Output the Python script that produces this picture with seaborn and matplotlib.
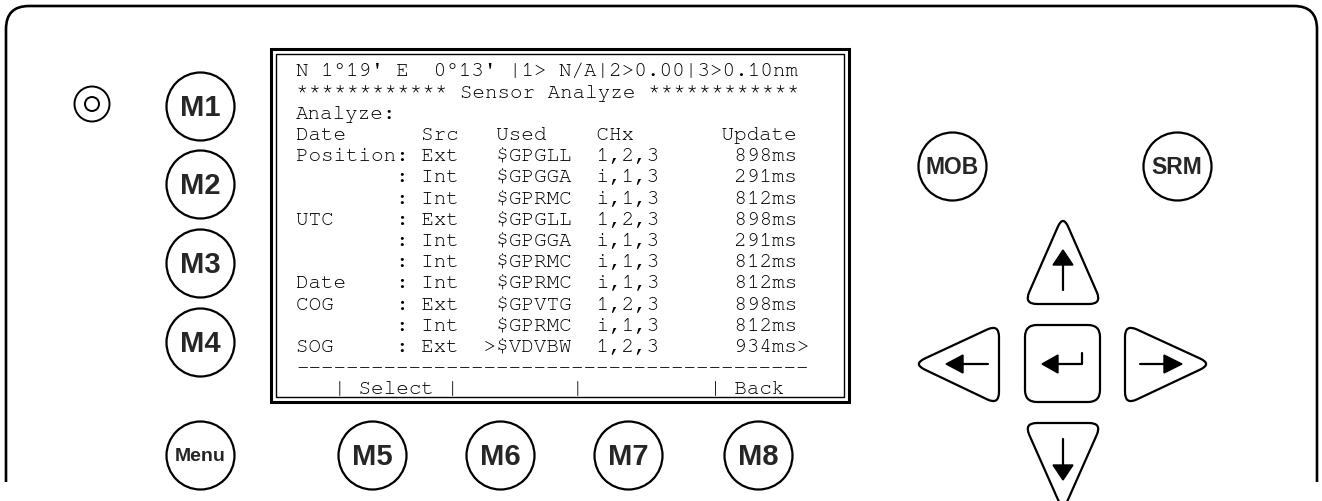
import numpy as np
import pandas as pd
import matplotlib
matplotlib.use('Agg')
import matplotlib.pyplot as plt
import seaborn as sns
from matplotlib import font_manager
from matplotlib.path import Path
from matplotlib.patches import PathPatch, Rectangle, FancyBboxPatch, Polygon, Circle

# screen content
header_line = "N 1°19' E  0°13' |1> N/A|2>0.00|3>0.10nm"
title_line = "************ Sensor Analyze ************"
sensors = ['Position', '', '', 'UTC', '', '', 'Date', 'COG', '', 'SOG']
src = ['Ext', 'Int', 'Int', 'Ext', 'Int', 'Int', 'Int', 'Ext', 'Int', 'Ext']
used = ['$GPGLL', '$GPGGA', '$GPRMC', '$GPGLL', '$GPGGA', '$GPRMC',
        '$GPRMC', '$GPVTG', '$GPRMC', '>$VDVBW']
chx = ['1,2,3', 'i,1,3', 'i,1,3', '1,2,3', 'i,1,3', 'i,1,3',
       'i,1,3', '1,2,3', 'i,1,3', '1,2,3']
update = ['898ms', '291ms', '812ms', '898ms', '291ms', '812ms',
          '812ms', '898ms', '812ms', '934ms>']
softkeys = "   | Select |         |          | Back"

# buttons
m_labels = ['M1', 'M2', 'M3', 'M4', 'M5', 'M6', 'M7', 'M8']
m_x = [200, 200, 200, 200, 372, 500, 628, 758]
m_y = [107, 185, 264, 343, 456, 456, 456, 456]
other_labels = ['Menu', 'MOB', 'SRM']
other_x = [200, 952, 1177]
other_y = [456, 167, 167]

sns.set_theme(style='white')
names = {f.name for f in font_manager.fontManager.ttflist}
narrow = 'Liberation Sans Narrow' in names
mono = [f for f in ['Courier New', 'Nimbus Mono PS', 'FreeMono', 'Liberation Mono']
        if f in names] or ['DejaVu Sans Mono']

lines = [header_line, title_line, 'Analyze:',
         'Date      Src   Used    CHx       Update']
for n, s, u, c, up in zip(sensors, src, used, chx, update):
    lines.append(f"{n:<8}: {s}  {u:>7}  {c}      {up}")
lines.append('-' * 41)
lines.append(softkeys)

fig = plt.figure(figsize=(13.22, 5.02), dpi=100)
ax = fig.add_axes([0, 0, 1, 1])

buttons = pd.DataFrame({'label': m_labels + other_labels,
                        'x': m_x + other_x, 'y': m_y + other_y})
sns.scatterplot(data=buttons, x='x', y='y', s=(2 * 34 * 0.72) ** 2, marker='o',
                color='white', edgecolor='black', linewidth=1.6, ax=ax,
                legend=False, zorder=3)

ax.set_xlim(0, 1322)
ax.set_ylim(502, 0)
ax.axis('off')

# housing outline
C = Path.CURVE3
frame = Path([(6, 483), (6, 30), (6, 7), (29, 7), (1294, 7), (1317, 7),
              (1317, 30), (1317, 483)],
             [Path.MOVETO, Path.LINETO, C, C, Path.LINETO, C, C, Path.LINETO])
ax.add_patch(PathPatch(frame, fill=False, lw=1.9, color='black'))

# indicator
ax.add_patch(Circle((92, 105), 17.5, fill=False, lw=1.4, color='black'))
ax.add_patch(Circle((92, 105), 7, fill=False, lw=1.4, color='black'))

# screen
ax.add_patch(Rectangle((271, 50), 578, 353, fill=False, lw=2.2, color='black'))
ax.add_patch(Rectangle((276, 55), 568, 343, fill=False, lw=1.0, color='black'))
for i, txt in enumerate(lines):
    ax.text(296, 70 + 21.2 * i + 6.5, txt, family=mono,
            fontsize=15, va='baseline', ha='left', color='black')

for lab, x, y in zip(m_labels, m_x, m_y):
    ax.text(x, y + 1, lab, family='Liberation Sans', fontweight='bold',
            fontsize=21, ha='center', va='center', zorder=4)
for lab, x, y in zip(other_labels, other_x, other_y):
    if narrow:
        fam, fs = 'Liberation Sans Narrow', (16 if lab == 'Menu' else 20)
    else:
        fam, fs = 'Liberation Sans', (14 if lab == 'Menu' else 16.5)
    ax.text(x, y + 1, lab, family=fam, fontweight='bold', fontsize=fs,
            ha='center', va='center', zorder=4)


def rounded(verts, r):
    pts, codes = [], []
    n = len(verts)
    for i in range(n):
        V = np.array(verts[i], float)
        P = np.array(verts[i - 1], float)
        N = np.array(verts[(i + 1) % n], float)
        a = V + (P - V) / np.linalg.norm(P - V) * r
        b = V + (N - V) / np.linalg.norm(N - V) * r
        pts.append(a)
        codes.append(Path.MOVETO if i == 0 else Path.LINETO)
        pts += [V, b]
        codes += [C, C]
    pts.append(pts[0])
    codes.append(Path.CLOSEPOLY)
    return Path(pts, codes)


# direction keys
for tri in [[(1063, 216), (1102, 305), (1024, 305)],
            [(913, 365), (999, 325), (999, 406)],
            [(1212, 365), (1125, 406), (1125, 325)],
            [(1024, 424), (1102, 424), (1063, 512)]]:
    ax.add_patch(PathPatch(rounded(tri, 13), fill=False, lw=1.6, color='black'))
ax.add_patch(FancyBboxPatch((1025, 326), 75, 77,
                            boxstyle='round,pad=0,rounding_size=12',
                            fill=False, lw=1.6, color='black'))

# arrows
k = dict(color='black', lw=1.6)
ax.plot([1063, 1063], [264, 291], **k)
ax.add_patch(Polygon([(1063, 251), (1053, 266), (1073, 266)], color='black'))
ax.plot([1063, 1063], [440, 468], **k)
ax.add_patch(Polygon([(1063, 481), (1053, 466), (1073, 466)], color='black'))
ax.plot([962, 988], [365, 365], **k)
ax.add_patch(Polygon([(946, 365), (963, 356), (963, 374)], color='black'))
ax.plot([1140, 1165], [365, 365], **k)
ax.add_patch(Polygon([(1182, 365), (1164, 356), (1164, 374)], color='black'))
ax.plot([1056, 1082, 1082], [365, 365, 354], **k)
ax.add_patch(Polygon([(1042, 365), (1058, 356), (1058, 374)], color='black'))

fig.savefig('out.png', dpi=100, facecolor='white')
